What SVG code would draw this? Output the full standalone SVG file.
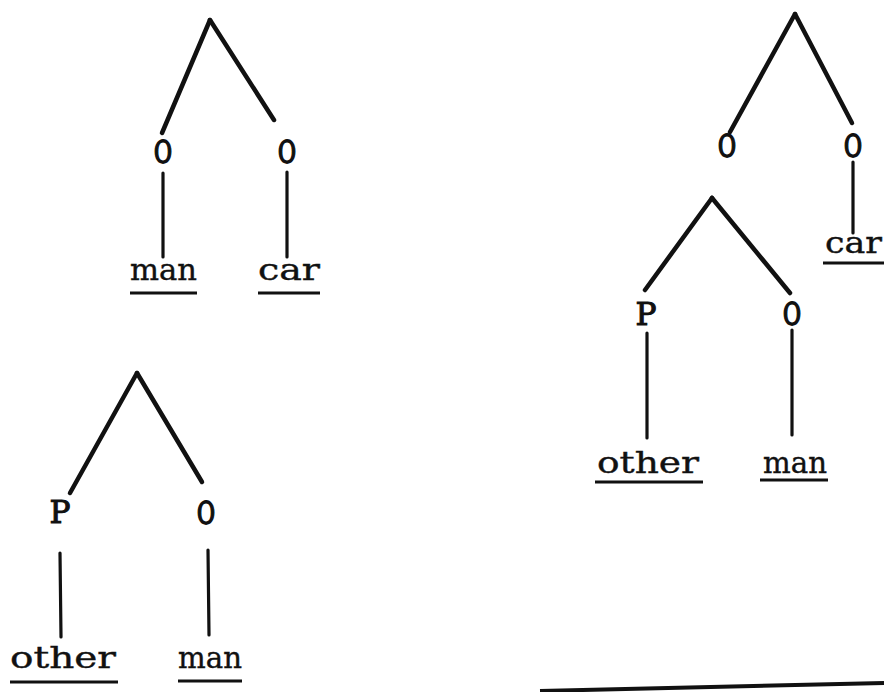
<svg xmlns="http://www.w3.org/2000/svg" width="884" height="692" viewBox="0 0 884 692">
  <style>
    .lbl { font-family: "DejaVu Serif", "Liberation Serif", serif; font-size: 32px; fill: #111; stroke: #111; stroke-width: 1.1px; }
    .oval { stroke-width: 1.8px; }
    .word { font-family: "DejaVu Serif", "Liberation Serif", serif; font-size: 30px; fill: #111; stroke: #111; stroke-width: 0.4px; }
    .branch { stroke: #111; stroke-width: 4.5; stroke-linecap: round; fill: none; }
    .stem { stroke: #111; stroke-width: 3.2; stroke-linecap: round; fill: none; }
    .ul { stroke: #111; stroke-width: 3; fill: none; }
  </style>
  <rect width="884" height="692" fill="#fff"/>

  <!-- connectors -->
  <g id="connectors">
    <!-- tree: man car -->
    <path class="branch" d="M210 20 L162 133"/>
    <path class="branch" d="M210 20 L274 120"/>
    <path class="stem" d="M163 173 L163 257"/>
    <path class="stem" d="M287 172 L287 257"/>
    <!-- tree: other man -->
    <path class="branch" d="M137 373 L70 493"/>
    <path class="branch" d="M137 373 L202 482"/>
    <path class="stem" d="M60 553 L61 637"/>
    <path class="stem" d="M208 550 L209 635"/>
    <!-- nested tree: outer -->
    <path class="branch" d="M795 14 L730 132"/>
    <path class="branch" d="M795 14 L852 123"/>
    <path class="stem" d="M853 162 L853 233"/>
    <!-- nested tree: inner -->
    <path class="branch" d="M712 198 L645 290"/>
    <path class="branch" d="M712 198 L790 293"/>
    <path class="stem" d="M647 333 L647 438"/>
    <path class="stem" d="M792 330 L792 435"/>
  </g>

  <!-- tree 1 -->
  <g id="t1-o-left"><text class="lbl oval" x="163" y="163" text-anchor="middle" textLength="18" lengthAdjust="spacingAndGlyphs">O</text></g>
  <g id="t1-o-right"><text class="lbl oval" x="287" y="163" text-anchor="middle" textLength="18" lengthAdjust="spacingAndGlyphs">O</text></g>
  <g id="t1-man">
    <text class="word" x="130" y="280" textLength="67" lengthAdjust="spacingAndGlyphs">man</text>
    <path class="ul" d="M130 293 L197 293"/>
  </g>
  <g id="t1-car">
    <text class="word" x="258" y="280" textLength="62" lengthAdjust="spacingAndGlyphs">car</text>
    <path class="ul" d="M258 293 L320 293"/>
  </g>

  <!-- tree 2 -->
  <g id="t2-p"><text class="lbl" x="60" y="523" text-anchor="middle" textLength="21" lengthAdjust="spacingAndGlyphs">P</text></g>
  <g id="t2-o"><text class="lbl oval" x="206" y="524" text-anchor="middle" textLength="18" lengthAdjust="spacingAndGlyphs">O</text></g>
  <g id="t2-other">
    <text class="word" x="10" y="668" textLength="106" lengthAdjust="spacingAndGlyphs">other</text>
    <path class="ul" d="M10 682 L118 682"/>
  </g>
  <g id="t2-man">
    <text class="word" x="178" y="668" textLength="64" lengthAdjust="spacingAndGlyphs">man</text>
    <path class="ul" d="M178 681 L242 681"/>
  </g>

  <!-- tree 3 -->
  <g id="t3-o-left"><text class="lbl oval" x="727" y="157" text-anchor="middle" textLength="18" lengthAdjust="spacingAndGlyphs">O</text></g>
  <g id="t3-o-right"><text class="lbl oval" x="853" y="157" text-anchor="middle" textLength="18" lengthAdjust="spacingAndGlyphs">O</text></g>
  <g id="t3-car">
    <text class="word" x="825" y="253" textLength="57" lengthAdjust="spacingAndGlyphs">car</text>
    <path class="ul" d="M823 263 L884 263"/>
  </g>
  <g id="t3-p"><text class="lbl" x="646" y="325" text-anchor="middle" textLength="21" lengthAdjust="spacingAndGlyphs">P</text></g>
  <g id="t3-o-inner"><text class="lbl oval" x="792" y="325" text-anchor="middle" textLength="18" lengthAdjust="spacingAndGlyphs">O</text></g>
  <g id="t3-other">
    <text class="word" x="597" y="473" textLength="102" lengthAdjust="spacingAndGlyphs">other</text>
    <path class="ul" d="M595 482 L703 482"/>
  </g>
  <g id="t3-man">
    <text class="word" x="763" y="473" textLength="64" lengthAdjust="spacingAndGlyphs">man</text>
    <path class="ul" d="M760 480 L828 480"/>
  </g>

  <!-- rule along the bottom edge -->
  <path d="M540 691 L884 683" stroke="#111" stroke-width="4" fill="none"/>
</svg>
